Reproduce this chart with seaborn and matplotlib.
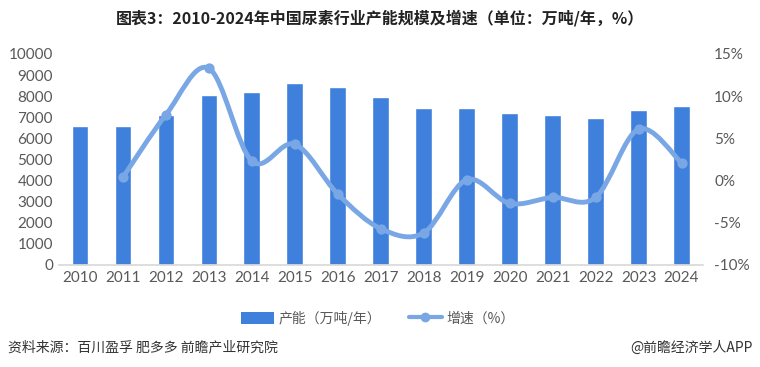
import numpy as np
import pandas as pd
import matplotlib
matplotlib.use("Agg")
import matplotlib.pyplot as plt
from matplotlib.path import Path
from matplotlib.patches import PathPatch, Patch
from matplotlib.lines import Line2D
import seaborn as sns

years = ['2010', '2011', '2012', '2013', '2014', '2015', '2016', '2017',
         '2018', '2019', '2020', '2021', '2022', '2023', '2024']
capacity = [6600, 6600, 7100, 8050, 8200, 8600, 8450, 7950,
            7450, 7450, 7200, 7100, 6950, 7350, 7550]
# growth starts from 2011
growth_years = years[1:]
growth = [0.4, 7.8, 13.3, 2.3, 4.3, -1.6, -5.7, -6.2,
          0.1, -2.7, -2.0, -2.0, 6.1, 2.1]

left_ticks = list(range(0, 10001, 1000))
right_ticks = [-10, -5, 0, 5, 10, 15]

bar_color = '#3f80dc'
line_color = '#79a7e5'
tick_color = '#595959'

sns.set_theme(style='white')
plt.rcParams['font.family'] = ['Noto Sans CJK SC', 'DejaVu Sans']

df = pd.DataFrame({'year': years, 'capacity': capacity})

fig = plt.figure(figsize=(7.6, 3.67), dpi=100)
ax = fig.add_axes([0.077, 0.278, 0.848, 0.575])

sns.barplot(data=df, x='year', y='capacity', color=bar_color, width=0.39,
            saturation=1, ax=ax)
ax.set_ylim(0, 10000)
ax.set_xlim(-0.5, len(years) - 0.5)
ax.set_yticks(left_ticks)
ax.set_xlabel('')
ax.set_ylabel('')
for s in ['top', 'right', 'left']:
    ax.spines[s].set_visible(False)
ax.spines['bottom'].set_color('#d9d9d9')
ax.tick_params(axis='both', length=0, labelsize=11, colors=tick_color, pad=4)
for lab in ax.get_xticklabels() + ax.get_yticklabels():
    lab.set_family('Lato')

# growth line on right axis, smooth like excel
ax2 = ax.twinx()
ax2.set_ylim(-10, 15)
ax2.set_yticks(right_ticks)
ax2.set_yticklabels([f'{t}%' for t in right_ticks])
for s in ax2.spines.values():
    s.set_visible(False)
ax2.tick_params(axis='y', length=0, labelsize=11, colors=tick_color, pad=8)
for lab in ax2.get_yticklabels():
    lab.set_family('Lato')

gx = np.array([years.index(y) for y in growth_years], dtype=float)
gy = np.array(growth, dtype=float)
pts = np.column_stack([gx, gy])
verts = [pts[0]]
codes = [Path.MOVETO]
n = len(pts)
for i in range(n - 1):
    p0 = pts[i - 1] if i > 0 else pts[i]
    p1 = pts[i]
    p2 = pts[i + 1]
    p3 = pts[i + 2] if i + 2 < n else pts[i + 1]
    c1 = p1 + (p2 - p0) / 6
    c2 = p2 - (p3 - p1) / 6
    verts += [c1, c2, p2]
    codes += [Path.CURVE4] * 3
ax2.add_patch(PathPatch(Path(verts, codes), fill=False, edgecolor=line_color,
                        lw=3.5, capstyle='round', joinstyle='round'))
sns.scatterplot(x=gx, y=gy, color=line_color, s=55, edgecolor=line_color,
                linewidth=0, ax=ax2, zorder=5)

# title
fig.text(0.5, 0.95, '图表3：2010-2024年中国尿素行业产能规模及增速（单位：万吨/年，%）',
         ha='center', va='center', fontsize=11.5, fontweight='bold', color='#222222')

# legend
handles = [Patch(facecolor=bar_color, edgecolor='none'),
           Line2D([0], [0], color=line_color, lw=3, marker='o', markersize=6)]
fig.legend(handles, ['产能（万吨/年）', '增速（%）'], loc='center',
           bbox_to_anchor=(0.497, 0.133), ncol=2, frameon=False, fontsize=10,
           labelcolor=tick_color, handlelength=2.4, handleheight=0.9,
           columnspacing=2.0, handletextpad=0.3)

# source
fig.text(0.01, 0.053, '资料来源：百川盈孚 肥多多 前瞻产业研究院', ha='left', va='center',
         fontsize=10, color='#333333')
fig.text(0.99, 0.053, '@前瞻经济学人APP', ha='right', va='center',
         fontsize=10, color='#333333')

fig.savefig('out.png', dpi=100)
